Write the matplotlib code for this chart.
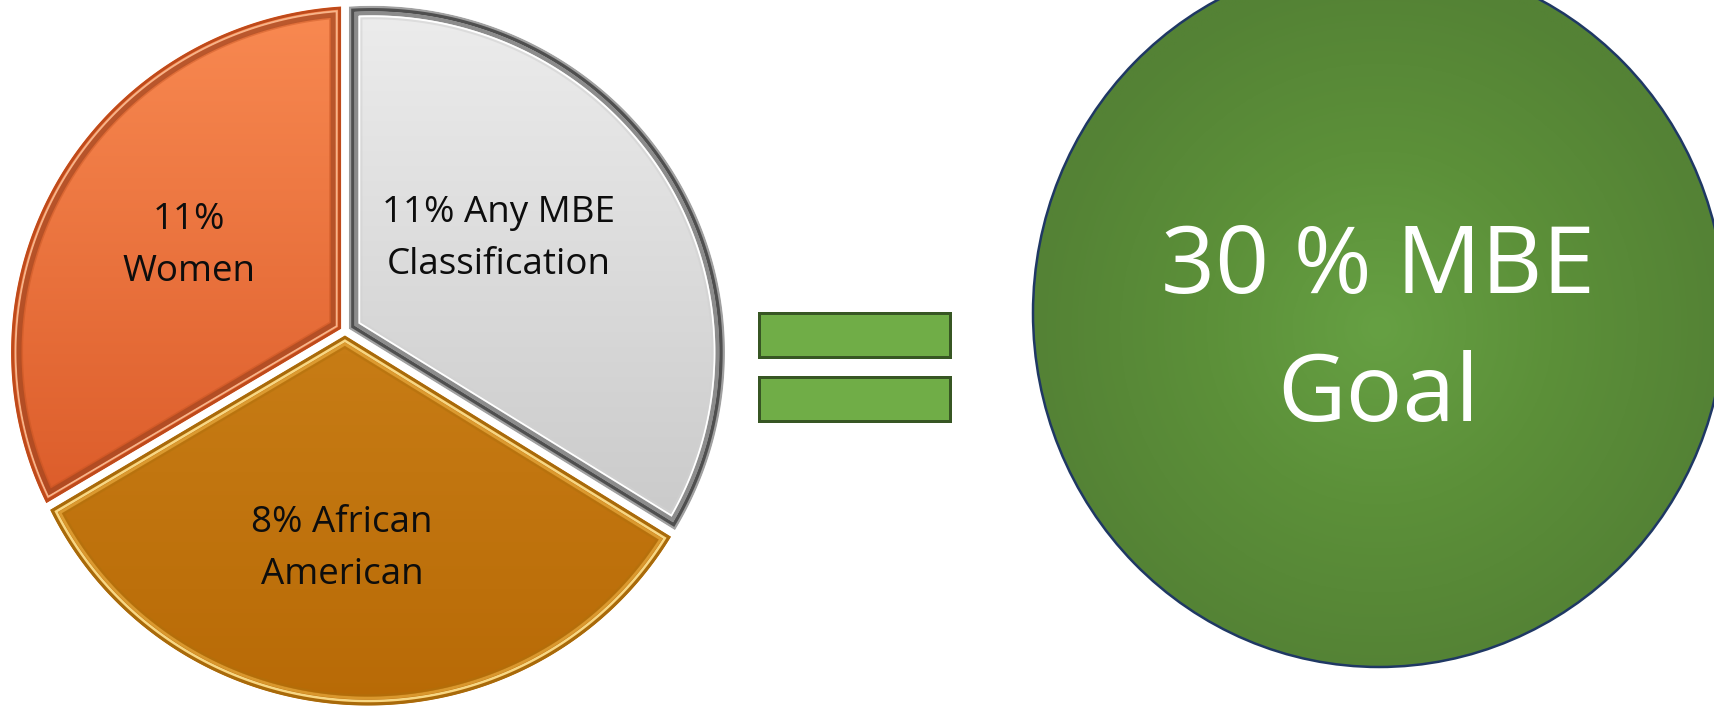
import numpy as np
import matplotlib.pyplot as plt
from matplotlib.patches import Polygon, Rectangle, Ellipse
from matplotlib.colors import LinearSegmentedColormap

# --- data ---
# slices clockwise from 12 o'clock
labels = ["11% Any MBE\nClassification", "8% African\nAmerican", "11%\nWomen"]
shares = [33.8, 32.7, 33.5]   # slice sizes as drawn (close to equal thirds)
goal_lines = ["30 % MBE", "Goal"]

W, H = 1714, 708
PX = 0.72   # points per pixel at dpi 100

# pie is drawn slightly in perspective: outline is an ellipse, split point off centre
pie_c = np.array([368.0, 353.5])
pie_a, pie_b = 353.0, 346.5
pie_v = np.array([345.0, 377.0])
explode = 4.5

fills = [('#EDEDED', '#BEBEBE'), ('#D68E24', '#B86A06'), ('#F98A52', '#D04A1A')]
# (inset px, colour, width px, alpha) - rough bevel look
bevels = [
    [(1.5, '#A0A0A0', 3, 1), (4.0, '#4F4F4F', 3.5, 1), (7.5, '#8C8C8C', 4, 1),
     (10.5, '#FFFFFF', 1.8, 1), (12.5, '#D2D2D2', 2, .6)],
    [(1.5, '#A86A0A', 3, 1), (4.5, '#F7D784', 2.5, 1), (7.5, '#E2A338', 3, .8),
     (10.0, '#B0700C', 2.5, .5)],
    [(1.5, '#BE4A1B', 3, 1), (4.5, '#F6B48A', 1.8, 1), (8.0, '#A0441F', 5, .7),
     (11.0, '#C2501E', 2, .4)],
]
label_pos = [(499, 222), (342, 532), (189, 229)]   # x, first baseline (pixel rows)
line_gap = 52


def hit(p, phi, c, A, B):
    d = np.array([np.cos(phi), np.sin(phi)])
    q = p - c
    aa = (d[0]/A)**2 + (d[1]/B)**2
    bb = 2*(q[0]*d[0]/A**2 + q[1]*d[1]/B**2)
    cc = (q[0]/A)**2 + (q[1]/B)**2 - 1
    t = (-bb + np.sqrt(bb*bb - 4*aa*cc)) / (2*aa)
    return p + t*d


def outline(t1, t2, inset=0.0, n=240):
    m = np.radians((t1+t2)/2)
    half = np.radians((t2-t1)/2)
    u = np.array([np.cos(m), np.sin(m)])
    c = pie_c + explode*u
    v = pie_v + explode*u + inset/np.sin(half)*u
    phis = np.radians(np.linspace(t1, t2, n))
    pts = [v] + [hit(v, ph, c, pie_a-inset, pie_b-inset) for ph in phis]
    return np.array(pts)


fig = plt.figure(figsize=(W/100, H/100), dpi=100)
ax = fig.add_axes([0, 0, 1, 1])

# pie slices
cum = np.concatenate([[0], np.cumsum(shares)]) / np.sum(shares) * 360
grad = np.linspace(0, 1, 256)[:, None] * np.ones((1, 4))
for i in range(len(shares)):
    t1, t2 = 90 - cum[i+1], 90 - cum[i]
    poly = Polygon(outline(t1, t2), closed=True, fc='none', ec='none')
    ax.add_patch(poly)
    cmap = LinearSegmentedColormap.from_list('s%d' % i, [fills[i][1], fills[i][0]])
    im = ax.imshow(grad, cmap=cmap, origin='lower', extent=(0, 740, 0, H),
                   aspect='auto', interpolation='bilinear')
    im.set_clip_path(poly)
    for inset, col, lw, al in bevels[i]:
        ring = Polygon(outline(t1, t2, inset), closed=True, fc='none', ec=col,
                       lw=lw*PX, alpha=al, joinstyle='miter')
        ax.add_patch(ring)
        ring.set_clip_path(poly)
    x0, yb = label_pos[i]
    for k, line in enumerate(labels[i].split('\n')):
        ax.text(x0, H - (yb + k*line_gap), line, ha='center', va='baseline',
                fontsize=26.5, family='Open Sans', color='#0D0D0D')

# equals sign
for ytop in [313, 377]:
    ax.add_patch(Rectangle((759, H - ytop - 44), 191, 44, fc='#70AD47',
                           ec='#375623', lw=3*PX))

# goal circle with radial shading
gc = (1379.0, H - 313.0)
ga, gb = 346.0, 354.0
gx = np.linspace(gc[0]-ga, gc[0]+ga, 300)
gy = np.linspace(gc[1]-gb, gc[1]+gb, 300)
XX, YY = np.meshgrid(gx, gy)
rr = np.clip(np.sqrt(((XX-gc[0])/ga)**2 + ((YY-gc[1]+15)/gb)**2), 0, 1)
gmap = LinearSegmentedColormap.from_list('g', ['#66A043', '#5C9039', '#548235'])
circ = Ellipse(gc, 2*ga, 2*gb, fc='none', ec='none')
ax.add_patch(circ)
im = ax.imshow(rr, cmap=gmap, origin='lower', aspect='auto', vmin=0, vmax=1,
               extent=(gx[0], gx[-1], gy[0], gy[-1]), interpolation='bilinear')
im.set_clip_path(circ)
ax.add_patch(Ellipse(gc, 2*ga, 2*gb, fc='none', ec='#1F3864', lw=2.5*PX))

for yb, line in zip([293, 421], goal_lines):
    ax.text(1378, H - yb, line, ha='center', va='baseline', fontsize=68,
            family='Open Sans', color='white')

ax.set_xlim(0, W)
ax.set_ylim(0, H)
ax.axis('off')
fig.savefig('out.png', dpi=100)
